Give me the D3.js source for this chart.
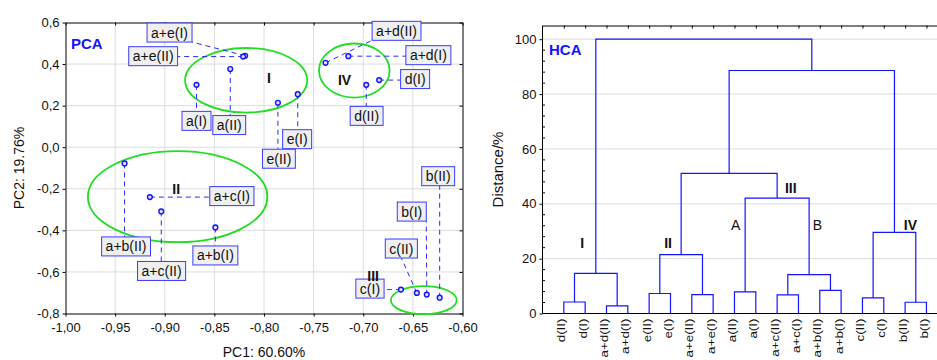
<!DOCTYPE html>
<html>
<head>
<meta charset="utf-8">
<script src="https://cdn.jsdelivr.net/npm/d3@7"></script>
<style>
  html, body { margin: 0; padding: 0; background: #fff; }
  svg { display: block; font-family: "Liberation Sans", Arial, sans-serif; }
</style>
</head>
<body>
<svg id="chart" width="937" height="360"></svg>
<script>
// ---------- PCA scores ----------
const pcaNames = ["a+e(I)", "a+e(II)", "a(I)", "a(II)", "e(I)", "e(II)",
                  "a+d(I)", "a+d(II)", "d(I)", "d(II)",
                  "a+b(I)", "a+b(II)", "a+c(I)", "a+c(II)",
                  "b(I)", "b(II)", "c(I)", "c(II)"];
const pc1 = [-0.819, -0.821, -0.868, -0.834, -0.766, -0.786,
             -0.715, -0.738, -0.684, -0.697,
             -0.849, -0.9405, -0.915, -0.9035,
             -0.636, -0.623, -0.662, -0.646];
const pc2 = [0.440, 0.436, 0.300, 0.376, 0.255, 0.214,
             0.438, 0.406, 0.323, 0.300,
             -0.386, -0.078, -0.240, -0.309,
             -0.709, -0.724, -0.685, -0.701];
const pc1Ticks = [-1.00, -0.95, -0.90, -0.85, -0.80, -0.75, -0.70, -0.65, -0.60];
const pc2Ticks = [-0.8, -0.6, -0.4, -0.2, 0.0, 0.2, 0.4, 0.6];

// cluster outlines on the score plot (centre and half-axes in score units)
const groupNames = ["I", "II", "III", "IV"];
const groupCx = [-0.818, -0.887, -0.639, -0.709];
const groupCy = [0.322, -0.238, -0.736, 0.369];
const groupRx = [0.0615, 0.0904, 0.0331, 0.0356];
const groupRy = [0.1554, 0.219, 0.0674, 0.130];
const groupTextX = [-0.795, -0.8884, -0.690, -0.7188];
const groupTextY = [0.335, -0.1985, -0.620, 0.322];

// ---------- HCA ----------
const hcaLeaves = ["d(II)", "d(I)", "a+d(II)", "a+d(I)", "e(II)", "e(I)", "a+e(II)", "a+e(I)",
                   "a(II)", "a(I)", "a+c(II)", "a+c(I)", "a+b(II)", "a+b(I)",
                   "c(II)", "c(I)", "b(II)", "b(I)"];
// each merge joins two clusters (leaf index, or 18 + k for the k-th merge) at a distance in %
const hcaMerges = [
  [0, 1, 4.2],     // 18
  [2, 3, 2.8],     // 19
  [18, 19, 14.6],  // 20  I
  [4, 5, 7.3],     // 21
  [6, 7, 6.9],     // 22
  [21, 22, 21.5],  // 23  II
  [8, 9, 7.9],     // 24  A
  [10, 11, 6.8],   // 25
  [12, 13, 8.4],   // 26
  [25, 26, 14.2],  // 27  B
  [24, 27, 42.1],  // 28  III
  [23, 28, 51.1],  // 29
  [14, 15, 5.7],   // 30
  [16, 17, 4.1],   // 31
  [30, 31, 29.6],  // 32  IV
  [29, 32, 88.6],  // 33
  [20, 33, 100.0]  // 34
];
const distTicks = [0, 20, 40, 60, 80, 100];
const hcaNotes = ["I", "II", "III", "A", "B", "IV"];
const hcaNoteX = [1.857, 5.889, 11.64, 9.06, 12.89, 17.25];
const hcaNoteY = [25.8, 25.8, 45.6, 32.1, 32.1, 32.3];
const hcaNoteBold = [true, true, true, false, false, true];

// ---------- label placement on the score plot (pixel offset of box centre from its point) ----------
const labelOffset = {
  "a+e(I)": [-75.6, -23.2], "a+e(II)": [-90, -0.4], "a(I)": [0, 36], "a(II)": [-1, 56],
  "e(I)": [-0.6, 45], "e(II)": [1, 56], "a+d(I)": [80, -1], "a+d(II)": [71, -32],
  "d(I)": [36, -1], "d(II)": [0.4, 31], "a+b(I)": [0, 28], "a+b(II)": [1.5, 83],
  "a+c(I)": [82, -1], "a+c(II)": [0.3, 59.5], "b(I)": [-15, -83], "b(II)": [-1.5, -121.5],
  "c(I)": [-31, -1], "c(II)": [-15.5, -44.4]
};
const labelFromCentre = new Set(["c(II)"]);

const svg = d3.select("#chart");
const loc = d3.formatLocale({decimal: ",", thousands: ".", grouping: [3], currency: ["", ""], minus: "-"});
const BLUE = "#1414ff";
const GRID = "#dcdcdc";

function styleAxis(g, size) {
  g.attr("font-family", null).attr("font-size", size);
  g.selectAll("text").attr("fill", "#111");
  g.selectAll("line").attr("stroke", "#000");
  g.select(".domain").attr("stroke", "#000");
}

// =============== PCA panel ===============
(function drawPCA() {
  const P = {l: 65.5, r: 462.5, t: 22.5, b: 313.5};
  const x = d3.scaleLinear().domain([-1, -0.6]).range([P.l, P.r]);
  const y = d3.scaleLinear().domain([-0.8, 0.6]).range([P.b, P.t]);
  const g = svg.append("g");

  // grid
  g.append("g").selectAll("line").data(pc1Ticks.slice(1, -1)).join("line")
    .attr("x1", d => x(d)).attr("x2", d => x(d)).attr("y1", P.t).attr("y2", P.b)
    .attr("stroke", GRID);
  g.append("g").selectAll("line").data(pc2Ticks.slice(1, -1)).join("line")
    .attr("y1", d => y(d)).attr("y2", d => y(d)).attr("x1", P.l).attr("x2", P.r)
    .attr("stroke", GRID);

  // axes
  g.append("g").attr("transform", `translate(0,${P.b})`)
    .call(d3.axisBottom(x).tickValues(pc1Ticks).tickFormat(loc.format(".2f")).tickSize(3).tickSizeOuter(0).tickPadding(6))
    .call(a => styleAxis(a, 13));
  g.append("g").attr("transform", `translate(${P.l},0)`)
    .call(d3.axisLeft(y).tickValues(pc2Ticks).tickFormat(loc.format(".1f")).tickSize(3).tickSizeOuter(0).tickPadding(3))
    .call(a => styleAxis(a, 13));
  g.append("g").attr("transform", `translate(0,${P.t})`)
    .call(d3.axisTop(x).tickValues(pc1Ticks).tickFormat("").tickSize(-3).tickSizeOuter(0))
    .call(a => styleAxis(a, 13));
  g.append("g").attr("transform", `translate(${P.r},0)`)
    .call(d3.axisRight(y).tickValues(pc2Ticks).tickFormat("").tickSize(-3).tickSizeOuter(0))
    .call(a => styleAxis(a, 13));

  // axis titles
  g.append("text").attr("x", (P.l + P.r) / 2).attr("y", 357).attr("text-anchor", "middle")
    .attr("font-size", 14).attr("fill", "#111").text("PC1: 60.60%");
  g.append("text").attr("transform", `translate(24,${(P.t + P.b) / 2}) rotate(-90)`)
    .attr("text-anchor", "middle").attr("font-size", 14).attr("fill", "#111").text("PC2: 19.76%");

  g.append("text").attr("x", 71).attr("y", 49).attr("font-size", 15).attr("font-weight", "bold")
    .attr("fill", BLUE).text("PCA");

  // cluster ellipses
  g.append("g").selectAll("ellipse").data(groupNames).join("ellipse")
    .attr("cx", (d, i) => x(groupCx[i])).attr("cy", (d, i) => y(groupCy[i]))
    .attr("rx", (d, i) => x(groupCx[i] + groupRx[i]) - x(groupCx[i]))
    .attr("ry", (d, i) => y(groupCy[i]) - y(groupCy[i] + groupRy[i]))
    .attr("fill", "none").attr("stroke", "#22dd22").attr("stroke-width", 1.8);

  const pts = pcaNames.map((name, i) => {
    const px = x(pc1[i]), py = y(pc2[i]);
    const off = labelOffset[name];
    return {name, px, py, cx: px + off[0], cy: py + off[1]};
  });

  // labels (measure text to size the boxes)
  const lab = g.append("g").selectAll("g").data(pts).join("g");
  lab.append("rect");
  lab.append("text").attr("x", d => d.cx).attr("y", d => d.cy).attr("dy", "0.36em")
    .attr("text-anchor", "middle").attr("font-size", 14).attr("fill", "#111").text(d => d.name);
  lab.each(function (d) {
    const w = d3.select(this).select("text").node().getComputedTextLength();
    d.bw = w + 8; d.bh = 19;
    d.x0 = d.cx - d.bw / 2; d.x1 = d.cx + d.bw / 2;
    d.y0 = d.cy - d.bh / 2; d.y1 = d.cy + d.bh / 2;
  });
  lab.select("rect")
    .attr("x", d => d.x0).attr("y", d => d.y0).attr("width", d => d.bw).attr("height", d => d.bh)
    .attr("fill", "#efefef").attr("stroke", "#3a3aff").attr("stroke-width", 1);

  // leader lines from each point to its label box
  g.insert("g", () => lab.node().parentNode).selectAll("line").data(pts).join("line")
    .attr("x1", d => d.px).attr("y1", d => d.py)
    .attr("x2", d => labelFromCentre.has(d.name) ? d.cx : Math.max(d.x0, Math.min(d.x1, d.px)))
    .attr("y2", d => labelFromCentre.has(d.name) ? (d.py > d.cy ? d.y1 : d.y0) : Math.max(d.y0, Math.min(d.y1, d.py)))
    .attr("stroke", "#2a2aff").attr("stroke-width", 1).attr("stroke-dasharray", "5,4");

  // points
  g.append("g").selectAll("circle").data(pts).join("circle")
    .attr("cx", d => d.px).attr("cy", d => d.py).attr("r", 2.4)
    .attr("fill", "#dcdcff").attr("stroke", BLUE).attr("stroke-width", 1.4);

  // cluster names
  g.append("g").selectAll("text").data(groupNames).join("text")
    .attr("x", (d, i) => x(groupTextX[i])).attr("y", (d, i) => y(groupTextY[i])).attr("dy", "0.36em")
    .attr("text-anchor", "middle").attr("font-size", 14).attr("font-weight", "bold").attr("fill", "#111")
    .text(d => d);
})();

// =============== HCA panel ===============
(function drawHCA() {
  const P = {l: 542.5, t: 25.5, b: 313.5};
  const x = d3.scaleLinear().domain([0, hcaLeaves.length + 1]).range([P.l, P.l + 21.33 * (hcaLeaves.length + 1)]);
  const y = d3.scaleLinear().domain([0, 105]).range([P.b, P.t]);
  const right = x(hcaLeaves.length + 1);
  const g = svg.append("g");

  // grid
  g.append("g").selectAll("line").data(distTicks.slice(1)).join("line")
    .attr("x1", P.l).attr("x2", right).attr("y1", d => y(d)).attr("y2", d => y(d))
    .attr("stroke", GRID);

  // left axis with inward minor ticks
  g.append("g").attr("transform", `translate(${P.l},0)`)
    .call(d3.axisLeft(y).tickValues(distTicks).tickSize(3).tickSizeOuter(0).tickPadding(3))
    .call(a => styleAxis(a, 13))
    .call(a => a.select(".domain").attr("d", `M0,${P.t}V${P.b}`));
  g.append("g").selectAll("line").data(d3.range(4, 100, 4).filter(v => v % 20 !== 0)).join("line")
    .attr("x1", P.l).attr("x2", P.l + 2.5).attr("y1", d => y(d)).attr("y2", d => y(d))
    .attr("stroke", "#000");

  // top frame with ticks at the leaves, and bottom baseline
  g.append("g").attr("transform", `translate(0,${P.t})`)
    .call(d3.axisTop(x).tickValues(d3.range(1, hcaLeaves.length + 1)).tickFormat("").tickSize(-3).tickSizeOuter(0))
    .call(a => styleAxis(a, 13));
  g.append("line").attr("x1", P.l).attr("x2", right).attr("y1", P.b).attr("y2", P.b).attr("stroke", "#000");

  // leaf names
  g.append("g").selectAll("text").data(hcaLeaves).join("text")
    .attr("transform", (d, i) => `translate(${x(i + 1) + 1.5},318.5) rotate(-90) scale(1.22,1)`)
    .attr("text-anchor", "end").attr("font-size", 11).attr("fill", "#111").text(d => d);

  // titles
  g.append("text").attr("transform", `translate(503,${(P.t + P.b) / 2}) rotate(-90)`)
    .attr("text-anchor", "middle").attr("font-size", 15).attr("fill", "#111").text("Distance/%");
  g.append("text").attr("x", 549).attr("y", 55).attr("font-size", 15).attr("font-weight", "bold")
    .attr("fill", BLUE).text("HCA");

  // build the tree from the merge table
  const nodes = hcaLeaves.map((name, i) => ({name, h: 0, pos: i + 1}));
  hcaMerges.forEach(([a, b, h]) => {
    const A = nodes[a], B = nodes[b];
    nodes.push({children: [A, B], h, pos: (A.pos + B.pos) / 2});
  });
  const root = d3.hierarchy(nodes[nodes.length - 1]);

  g.append("g").selectAll("path").data(root.descendants().filter(n => n.children)).join("path")
    .attr("d", n => {
      const [L, R] = n.children.map(c => c.data);
      return `M${x(L.pos)},${y(L.h)}V${y(n.data.h)}H${x(R.pos)}V${y(R.h)}`;
    })
    .attr("fill", "none").attr("stroke", BLUE).attr("stroke-width", 1.2);

  // cluster annotations
  g.append("g").selectAll("text").data(hcaNotes).join("text")
    .attr("x", (d, i) => x(hcaNoteX[i])).attr("y", (d, i) => y(hcaNoteY[i])).attr("dy", "0.36em")
    .attr("text-anchor", "middle").attr("font-size", 14)
    .attr("font-weight", (d, i) => hcaNoteBold[i] ? "bold" : "normal").attr("fill", "#111")
    .text(d => d);
})();
</script>
</body>
</html>
